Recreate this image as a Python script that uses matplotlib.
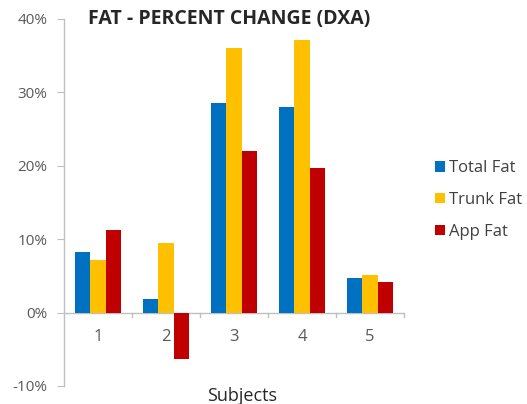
import matplotlib
matplotlib.use("Agg")
import matplotlib.pyplot as plt
import numpy as np
from matplotlib.ticker import FuncFormatter
from matplotlib.patches import Patch

subjects = ["1", "2", "3", "4", "5"]
total_fat = [8.2, 1.9, 28.6, 28.0, 4.7]
trunk_fat = [7.1, 9.5, 36.0, 37.1, 5.1]
app_fat = [11.2, -6.3, 22.0, 19.7, 4.2]
series_names = ["Total Fat", "Trunk Fat", "App Fat"]
colors = ["#0070C0", "#FFC000", "#C00000"]

plt.rcParams['font.family'] = ['Open Sans', 'DejaVu Sans']

fig = plt.figure(figsize=(5.27, 4.04), dpi=100)
ax = fig.add_axes([0.1214, 0.0446, 0.6452, 0.9084])

x = np.arange(1, len(subjects) + 1)
w = 0.225
for i, (vals, c) in enumerate(zip([total_fat, trunk_fat, app_fat], colors)):
    ax.bar(x + (i - 1) * w, vals, width=w, color=c, linewidth=0)

ax.set_xlim(0.5, 5.5)
ax.set_ylim(-10, 40)
ax.set_yticks([-10, 0, 10, 20, 30, 40])
ax.yaxis.set_major_formatter(FuncFormatter(lambda v, p: f"{int(v)}%"))

gray = "#BFBFBF"
txt = "#595959"
for s in ["top", "right", "bottom"]:
    ax.spines[s].set_visible(False)
ax.spines["left"].set_color(gray)
ax.spines["left"].set_linewidth(1.0)
ax.axhline(0, color=gray, linewidth=1.0, zorder=0.5)

ax.tick_params(axis="y", length=5, color=gray, labelsize=11, labelcolor=txt, pad=7)
ax.set_xticks([])
for b in np.arange(1.5, 6.0, 1.0):
    ax.plot([b, b], [0, -0.6], color=gray, linewidth=1.0, clip_on=False)
for xi, lab in zip(x, subjects):
    ax.text(xi, -3.3, lab, ha="center", va="center", fontsize=12, color=txt)

fig.text(242 / 527, 1 - 396 / 404, "Subjects", ha="center", va="center", fontsize=13, color="#262626")

fig.text(88 / 527, 1 - 19 / 404, "FAT - PERCENT CHANGE (DXA)", ha="left", va="center",
         fontsize=14, fontweight="bold", color="#262626")

handles = [Patch(facecolor=c, edgecolor="none") for c in colors]
leg = fig.legend(handles, series_names, loc="center left", bbox_to_anchor=(0.826, 0.505),
                 frameon=False, fontsize=12, handlelength=0.6, handleheight=0.6,
                 handletextpad=0.25, labelspacing=0.95, labelcolor="#404040",
                 borderaxespad=0, borderpad=0)

fig.savefig("out.png", dpi=100)
